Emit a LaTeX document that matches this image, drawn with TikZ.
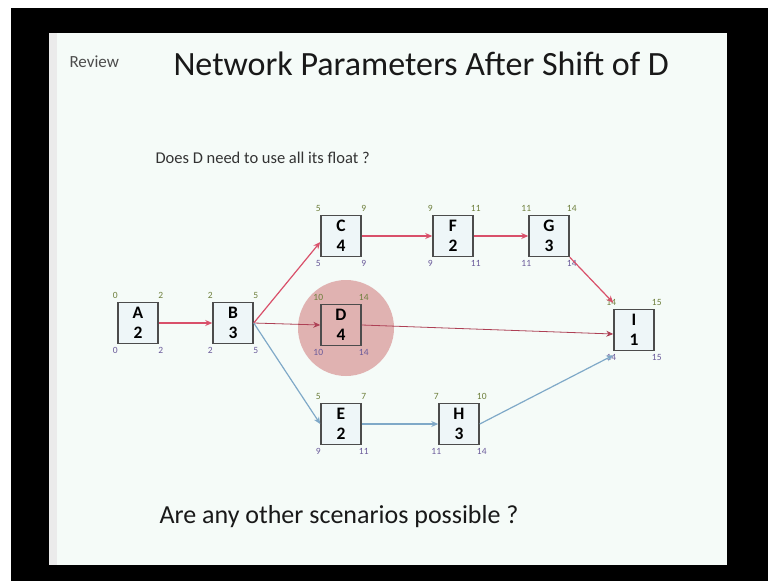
\documentclass[tikz,border=0pt]{standalone}
\usepackage{fontspec}
\setmainfont{Carlito}
\usetikzlibrary{arrows.meta}
\definecolor{slidebg}{HTML}{F5FBF8}
\definecolor{redline}{HTML}{D9506A}
\definecolor{blueline}{HTML}{7FA9C8}
\definecolor{topnum}{HTML}{6E7F3C}
\definecolor{botnum}{HTML}{6A5A9A}
\definecolor{boxfill}{HTML}{EEF6F8}
\definecolor{circfill}{HTML}{D99A9A}
\tikzset{
  act/.style={draw=black!70, line width=1.5pt, fill=boxfill, minimum width=40pt, minimum height=41pt,
    align=center, inner sep=0pt, font=\fontsize{17.5}{20}\selectfont\bfseries},
  num/.style={font=\fontsize{9.5}{10}\selectfont, inner sep=0pt},
  crit/.style={draw=redline, line width=1.2pt, -{Stealth[length=7pt,width=6pt]}},
  thinred/.style={draw=redline!80!black, line width=0.8pt, -{Stealth[length=7pt,width=6pt]}},
  noncrit/.style={draw=blueline, line width=1.2pt, -{Stealth[length=7pt,width=6pt,fill=redline]}}
}
\newcommand{\nums}[5]{%
  \node[num, text=topnum, anchor=south] at ([xshift=-2pt,yshift=3pt]#1.north west) {#2};
  \node[num, text=topnum, anchor=south] at ([xshift=2pt,yshift=3pt]#1.north east) {#3};
  \node[num, text=botnum, anchor=north] at ([xshift=-2pt,yshift=-3pt]#1.south west) {#4};
  \node[num, text=botnum, anchor=north] at ([xshift=2pt,yshift=-3pt]#1.south east) {#5};}
\begin{document}
\begin{tikzpicture}[x=1pt,y=-1pt]
\useasboundingbox (0,0) rectangle (768,581);
\fill[white] (0,0) rectangle (768,581);
\fill[black] (11,8) rectangle (768,581);
\fill[slidebg] (49,33) rectangle (727,565);
\fill[black!8] (49,33) rectangle (57,565);

\node[anchor=west, font=\fontsize{17}{20}\selectfont, text=black!70] (rev) at (66,62) {Review};
\node[anchor=west, font=\fontsize{34}{40}\selectfont, text=black!90] (title) at (170,64) {Network Parameters After Shift of D};
\node[anchor=west, font=\fontsize{16.5}{19}\selectfont, text=black!80] (q1) at (152,158) {Does D need to use all its float ?};
\node[anchor=west, font=\fontsize{26}{30}\selectfont, text=black!90] (q2) at (156,517) {Are any other scenarios possible ?};

\fill[circfill, opacity=0.75] (346,328) circle (48);

\node[act] (A) at (138,323) {A\\2};
\node[act] (B) at (233,323) {B\\3};
\node[act] (C) at (341,236) {C\\4};
\node[act, fill=none] (D) at (341,325) {D\\4};
\node[act] (E) at (341,424) {E\\2};
\node[act] (F) at (453,236) {F\\2};
\node[act] (G) at (549,236) {G\\3};
\node[act] (H) at (459,424) {H\\3};
\node[act] (I) at (634,330) {I\\1};

\nums{A}{0}{2}{0}{2}
\nums{B}{2}{5}{2}{5}
\nums{C}{5}{9}{5}{9}
\nums{D}{10}{14}{10}{14}
\nums{E}{5}{7}{9}{11}
\nums{F}{9}{11}{9}{11}
\nums{G}{11}{14}{11}{14}
\nums{H}{7}{10}{11}{14}
\nums{I}{14}{15}{14}{15}

\draw[crit] (A.east) -- (B.west);
\draw[crit] (B.east) -- ([yshift=-6pt]C.west);
\draw[thinred] (B.east) -- (D.west);
\draw[noncrit] (B.east) -- (E.west);
\draw[crit] (C.east) -- (F.west);
\draw[crit] (F.east) -- (G.west);
\draw[crit] (G.south east) -- ([yshift=6pt]I.north west);
\draw[thinred] (D.east) -- ([yshift=-4pt]I.west);
\draw[noncrit] (E.east) -- (H.west);
\draw[noncrit] (H.east) -- ([yshift=-4pt]I.south west);
\end{tikzpicture}
\end{document}
